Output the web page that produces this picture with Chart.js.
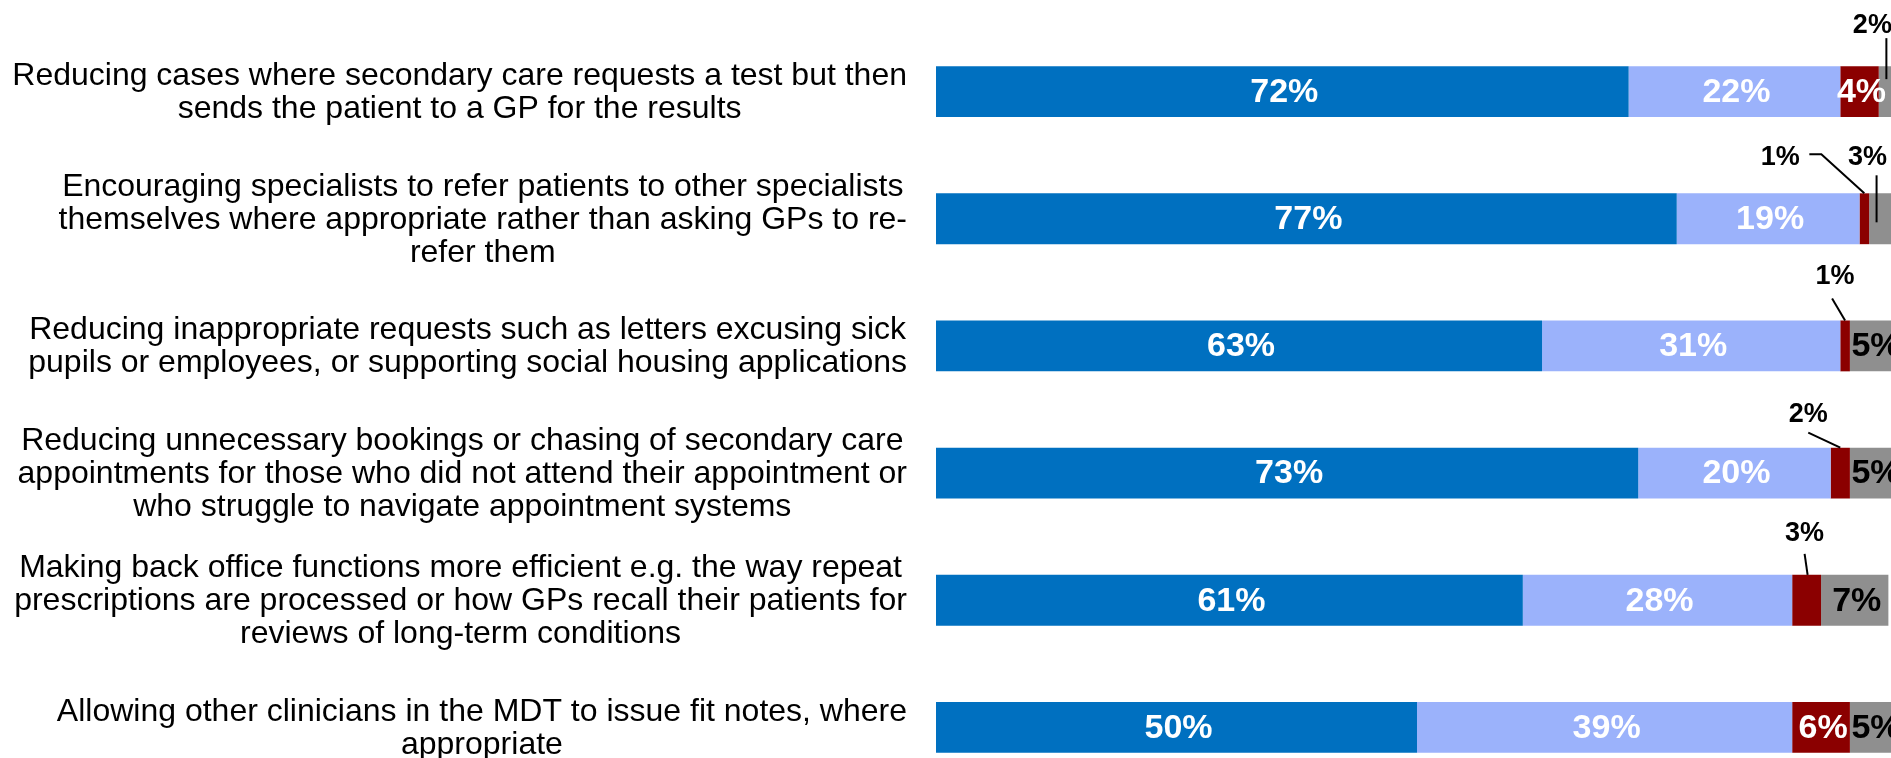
<!DOCTYPE html>
<html>
<head>
<meta charset="utf-8">
<script src="https://cdn.jsdelivr.net/npm/chart.js@4.4.1/dist/chart.umd.min.js"></script>
<style>
    html, body {
        margin: 0;
        padding: 0;
        background: #ffffff;
        overflow: hidden;
    }

    .chart-box {
        position: relative;
        width: 1900px;
        height: 795px;
    }
</style>
</head>
<body>
<div class="chart-box">
    <canvas id="gpChart"></canvas>
</div>
<script>
const categories = [
    ['Reducing cases where secondary care requests a test but then', 'sends the patient to a GP for the results'],
    ['Encouraging specialists to refer patients to other specialists', 'themselves where appropriate rather than asking GPs to re-', 'refer them'],
    ['Reducing inappropriate requests such as letters excusing sick', 'pupils or employees, or supporting social housing applications'],
    ['Reducing unnecessary bookings or chasing of secondary care', 'appointments for those who did not attend their appointment or', 'who struggle to navigate appointment systems'],
    ['Making back office functions more efficient e.g. the way repeat', 'prescriptions are processed or how GPs recall their patients for', 'reviews of long-term conditions'],
    ['Allowing other clinicians in the MDT to issue fit notes, where', 'appropriate'],
];

const seriesNames = ['Very helpful', 'Fairly helpful', 'Not helpful', "Don't know"];
const veryHelpful = [72, 77, 63, 73, 61, 50];
const fairlyHelpful = [22, 19, 31, 20, 28, 39];
const notHelpful = [4, 1, 1, 2, 3, 6];
const dontKnow = [2, 3, 5, 5, 7, 5];

const barColors = ['#0070c0', '#9bb2fb', '#8b0000', '#8f8f8f'];
const labelColors = ['#ffffff', '#ffffff', '#ffffff', '#000000'];
const labelFont = '"Liberation Sans", Arial, sans-serif';

// small segments get their label above the bar, with a leader line
// dx/dy: text centre relative to segment centre / bar top; line: points relative to the same
const callouts = [
    { ds: 3, row: 0, dx: -16, dy: -41, line: [[-2, -28], [-2, 13]] },
    { ds: 2, row: 1, dx: -84, dy: -36, line: [[-55, -39], [-43, -39], [0, 0]] },
    { ds: 3, row: 1, dx: -16, dy: -36, line: [[-7, -18], [-7, 29]] },
    { ds: 2, row: 2, dx: -10, dy: -44, line: [[-13, -22], [0, 0]] },
    { ds: 2, row: 3, dx: -32, dy: -33, line: [[-32, -15], [0, 0]] },
    { ds: 2, row: 4, dx: -2, dy: -41, line: [[-2, -21], [1, 0]] },
];

const categoryLabels = {
    id: 'categoryLabels',
    afterDraw(chart) {
        const ctx = chart.ctx;
        const yScale = chart.scales.y;
        const rightEdge = 907;
        const lineHeight = 33;

        ctx.save();
        ctx.font = '32px ' + labelFont;
        ctx.fillStyle = '#000000';
        ctx.textAlign = 'center';
        ctx.textBaseline = 'middle';

        categories.forEach((lines, i) => {
            const widest = Math.max(...lines.map((line) => ctx.measureText(line).width));
            const centerX = rightEdge - widest / 2;
            const centerY = yScale.getPixelForValue(i) + 1;
            const startY = centerY - (lines.length - 1) * lineHeight / 2;

            lines.forEach((line, j) => {
                ctx.fillText(line, centerX, startY + j * lineHeight);
            });
        });

        ctx.restore();
    },
};

const segmentLabels = {
    id: 'segmentLabels',
    afterDatasetsDraw(chart) {
        const ctx = chart.ctx;

        ctx.save();
        ctx.textAlign = 'center';
        ctx.textBaseline = 'middle';

        chart.data.datasets.forEach((dataset, ds) => {
            const meta = chart.getDatasetMeta(ds);

            meta.data.forEach((bar, row) => {
                const value = dataset.data[row];
                const centerX = (bar.x + bar.base) / 2;
                const callout = callouts.find((c) => c.ds === ds && c.row === row);

                if (callout) {
                    const top = bar.y - bar.height / 2;

                    ctx.strokeStyle = '#000000';
                    ctx.lineWidth = 2;
                    ctx.beginPath();
                    callout.line.forEach(([px, py], k) => {
                        if (k === 0) {
                            ctx.moveTo(centerX + px, top + py);
                        } else {
                            ctx.lineTo(centerX + px, top + py);
                        }
                    });
                    ctx.stroke();

                    ctx.font = 'bold 27px ' + labelFont;
                    ctx.fillStyle = '#000000';
                    ctx.fillText(value + '%', centerX + callout.dx, top + callout.dy);
                    return;
                }

                ctx.font = 'bold 34px ' + labelFont;
                ctx.fillStyle = labelColors[ds];
                ctx.fillText(value + '%', centerX + 2, bar.y + 1);
            });
        });

        ctx.restore();
    },
};

const seriesData = [veryHelpful, fairlyHelpful, notHelpful, dontKnow];

new Chart(document.getElementById('gpChart'), {
    type: 'bar',
    data: {
        labels: categories,
        datasets: seriesData.map((values, i) => ({
            label: seriesNames[i],
            data: values,
            backgroundColor: barColors[i],
            borderWidth: 0,
            barPercentage: 0.4,
            categoryPercentage: 1,
        })),
    },
    options: {
        indexAxis: 'y',
        responsive: true,
        maintainAspectRatio: false,
        animation: false,
        layout: {
            padding: {
                left: 936,
                right: 2,
                top: 28,
                bottom: 4,
            },
        },
        plugins: {
            legend: {
                display: false,
            },
            tooltip: {
                enabled: false,
            },
        },
        scales: {
            x: {
                stacked: true,
                min: 0,
                max: 100,
                display: false,
            },
            y: {
                stacked: true,
                display: false,
            },
        },
    },
    plugins: [categoryLabels, segmentLabels],
});
</script>
</body>
</html>
